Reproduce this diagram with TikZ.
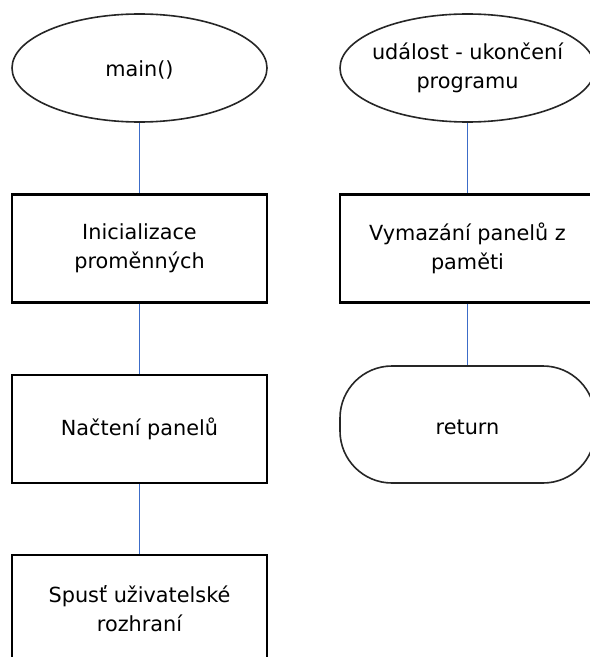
\documentclass[tikz,border=0pt]{standalone}
\usepackage{fontspec}
\setmainfont{DejaVu Sans}
\usetikzlibrary{shapes.geometric}
\definecolor{linkblue}{RGB}{60,108,200}
\tikzset{
  every node/.style={font=\fontsize{20.8bp}{29bp}\selectfont, align=center, inner sep=0pt},
  startend/.style={ellipse, draw=black!85, line width=1.6bp, minimum width=255bp, minimum height=108bp},
  process/.style={rectangle, draw=black, line width=2.2bp, minimum width=255bp, minimum height=108bp},
  terminal/.style={rectangle, rounded corners=52bp, draw=black!85, line width=1.6bp, minimum width=255bp, minimum height=117bp},
  link/.style={draw=linkblue, line width=1.9bp}
}
\begin{document}
\begin{tikzpicture}[x=1bp, y=-1bp]
  \clip (0,0) rectangle (590,657);
  \fill[white] (0,0) rectangle (590,657);

  % left column: program start
  \node[startend, label={[align=center, yshift=-2bp]center:main()}] (main) at (139.5,68) {};
  \node[process] (init) at (139.5,248.5) {Inicializace\\proměnných};
  \node[process] (load) at (139.5,429) {\raisebox{-2bp}{Načtení panelů}};
  \node[process] (ui) at (139.5,609) {Spusť uživatelské\\rozhraní};

  % right column: program exit
  \node[startend, label={[align=center]center:událost - ukončení\\programu}] (exit) at (467.5,68) {};
  \node[process] (free) at (467.5,248.5) {Vymazání panelů z\\paměti};
  \node[terminal, label={[yshift=-3bp]center:return}] (ret) at (467.5,424.5) {};

  % connectors
  \draw[link] (main.south) -- (init.north);
  \draw[link] (init.south) -- (load.north);
  \draw[link] (load.south) -- (ui.north);
  \draw[link] (exit.south) -- (free.north);
  \draw[link] (free.south) -- (ret.north);
\end{tikzpicture}
\end{document}
